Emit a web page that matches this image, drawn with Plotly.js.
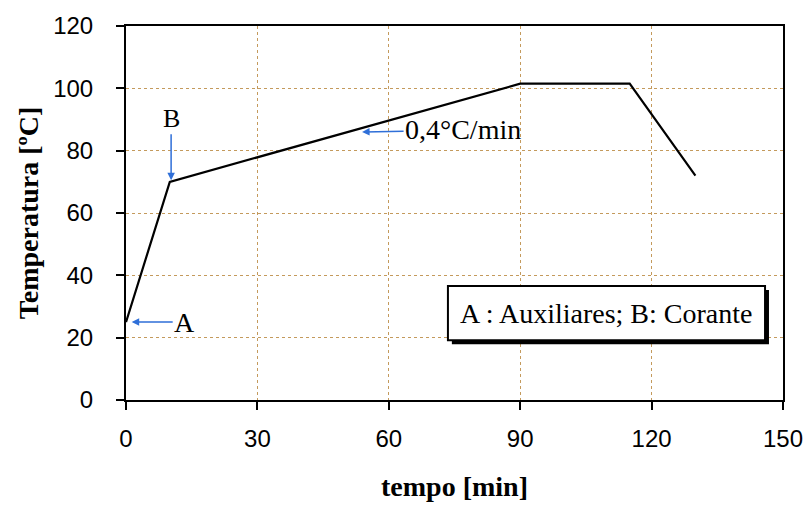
<!DOCTYPE html>
<html>
<head>
<meta charset="utf-8">
<script src="https://cdn.plot.ly/plotly-3.0.1.min.js"></script>
<style>html,body{margin:0;padding:0;background:#fff;}#chart{width:803px;height:511px;}</style>
</head>
<body>
<div id="chart"></div>
<script>
// Data
const tempo = [0, 10, 90, 115, 130];
const temperatura = [25, 70, 101.5, 101.5, 72];
const xTicks = [0, 30, 60, 90, 120, 150];
const yTicks = [0, 20, 40, 60, 80, 100, 120];
const labelA = 'A';
const labelB = 'B';
const labelRate = '0,4°C/min';
const legendText = 'A : Auxiliares; B: Corante';
const pointA = [1.3, 25];
const pointB = [10.3, 70.5];
const pointRate = [53.9, 86];

const serif = '"Liberation Serif", "Times New Roman", serif';
const sans = '"Liberation Sans Narrow", "Liberation Sans", Arial, sans-serif';
const blue = '#2f6fd8';

const trace = {
  x: tempo, y: temperatura, type: 'scatter', mode: 'lines',
  line: {color: '#000', width: 2.2}, hoverinfo: 'skip', showlegend: false
};

const axisCommon = {
  showline: true, linecolor: '#000', linewidth: 2, mirror: true,
  ticks: 'outside', ticklen: 8, tickwidth: 2, tickcolor: '#000',
  showgrid: true, gridcolor: '#c49a5c', griddash: 'dot', gridwidth: 1,
  zeroline: false, ticklabeloverflow: 'allow',
  tickfont: {family: sans, size: 24, color: '#000'}
};

const layout = {
  width: 803, height: 511,
  margin: {l: 126, r: 20, t: 26, b: 111},
  paper_bgcolor: '#fff', plot_bgcolor: '#fff',
  xaxis: Object.assign({}, axisCommon, {
    range: [0, 150], tickvals: xTicks, ticklabelstandoff: 8,
    title: {text: 'tempo [min]', font: {family: serif, size: 28, color: '#000', weight: 'bold'}, standoff: 26}
  }),
  yaxis: Object.assign({}, axisCommon, {
    range: [0, 120], tickvals: yTicks, ticklabelstandoff: 18,
    title: {text: 'Temperatura [ºC]', font: {family: serif, size: 28, color: '#000', weight: 'bold'}, standoff: 6}
  }),
  shapes: [
    {type: 'rect', xref: 'x', yref: 'y', x0: 74.4, x1: 146.8, y0: 17.9, y1: 35.3,
     fillcolor: '#000', line: {width: 0}, layer: 'above'},
    {type: 'rect', xref: 'x', yref: 'y', x0: 73.5, x1: 145.9, y0: 19.2, y1: 36.6,
     fillcolor: '#fff', line: {color: '#000', width: 2}, layer: 'above'}
  ],
  annotations: [
    {x: pointA[0], y: pointA[1], xref: 'x', yref: 'y', text: labelA, showarrow: true,
     ax: 53, ay: 0, arrowhead: 2, arrowsize: 1, arrowwidth: 1.5, arrowcolor: blue,
     font: {family: serif, size: 28, color: '#000'}},
    {x: pointB[0], y: pointB[1], xref: 'x', yref: 'y', text: labelB, showarrow: true,
     ax: 0, ay: -62, arrowhead: 2, arrowsize: 1, arrowwidth: 1.5, arrowcolor: blue,
     font: {family: serif, size: 26, color: '#000'}},
    {x: pointRate[0], y: pointRate[1], xref: 'x', yref: 'y', text: labelRate, showarrow: true,
     ax: 101, ay: -2, arrowhead: 2, arrowsize: 1, arrowwidth: 1.5, arrowcolor: blue,
     font: {family: serif, size: 28, color: '#000'}},
    {x: 109.7, y: 27.9, xref: 'x', yref: 'y', text: legendText, showarrow: false,
     font: {family: serif, size: 28, color: '#000'}}
  ]
};

Plotly.newPlot('chart', [trace], layout, {staticPlot: true, displayModeBar: false});
</script>
</body>
</html>
